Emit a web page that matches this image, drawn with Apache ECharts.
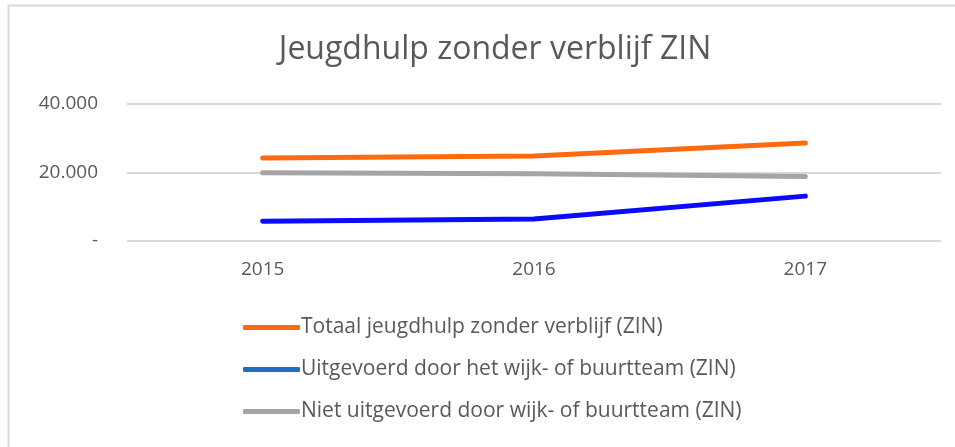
<!DOCTYPE html>
<html>
<head>
<meta charset="utf-8">
<script src="https://cdn.jsdelivr.net/npm/echarts@6/dist/echarts.min.js"></script>
<style>
  html, body { margin: 0; padding: 0; background: #fff; }
  #chart { width: 955px; height: 447px; }
</style>
</head>
<body>
<div id="chart"></div>
<script>
var years = ['2015', '2016', '2017']
var totaal = [24200, 24800, 28600]
var wijkteam = [5800, 6400, 13100]
var nietWijkteam = [19900, 19600, 18800]

var names = [
  'Totaal jeugdhulp zonder verblijf (ZIN)',
  'Uitgevoerd door het wijk- of buurtteam (ZIN)',
  'Niet uitgevoerd door wijk- of buurtteam (ZIN)'
]

var font = 'Open Sans'
var myChart = echarts.init(document.getElementById('chart'))

function line(name, data, color) {
  return {
    name: name,
    type: 'line',
    data: data,
    symbol: 'none',
    lineStyle: { color: color, width: 5, cap: 'round' },
    itemStyle: { color: color }
  }
}

myChart.setOption({
  animation: false,
  title: {
    text: 'Jeugdhulp zonder verblijf ZIN',
    left: 490,
    textAlign: 'center',
    top: 29,
    textStyle: { fontFamily: font, fontSize: 32, fontWeight: 'normal', color: '#595959' }
  },
  graphic: [{
    type: 'polyline',
    shape: { points: [[8.5, 460], [8.5, 5.5], [970, 5.5]] },
    style: { stroke: '#d9d9d9', lineWidth: 2, fill: null }
  }],
  grid: { left: 127, right: 14, top: 104, height: 137 },
  xAxis: {
    type: 'category',
    data: years,
    axisLine: { show: false },
    axisTick: { show: false },
    axisLabel: { margin: 19, fontFamily: font, fontSize: 19, color: '#595959' }
  },
  yAxis: {
    type: 'value',
    min: 0,
    max: 40000,
    interval: 20000,
    splitLine: { lineStyle: { color: '#d9d9d9', width: 2 } },
    axisLabel: {
      margin: 29,
      fontFamily: font,
      fontSize: 19,
      color: '#595959',
      formatter: function (v) {
        return v === 0 ? '-' : (v / 1000).toFixed(0) + '.000'
      }
    }
  },
  legend: {
    orient: 'vertical',
    left: 238,
    top: 312,
    itemWidth: 57,
    itemHeight: 5,
    itemGap: 21,
    textStyle: { fontFamily: font, fontSize: 21, color: '#595959', padding: [0, 0, 0, -4] },
    data: [
      { name: names[0], icon: 'roundRect', itemStyle: { color: '#ff6a0f' } },
      { name: names[1], icon: 'roundRect', itemStyle: { color: '#1f6fc5' } },
      { name: names[2], icon: 'roundRect', itemStyle: { color: '#a5a5a5' } }
    ]
  },
  series: [
    line(names[0], totaal, '#ff6a0f'),
    line(names[1], wijkteam, '#0a0aff'),
    line(names[2], nietWijkteam, '#a5a5a5')
  ]
})
</script>
</body>
</html>
